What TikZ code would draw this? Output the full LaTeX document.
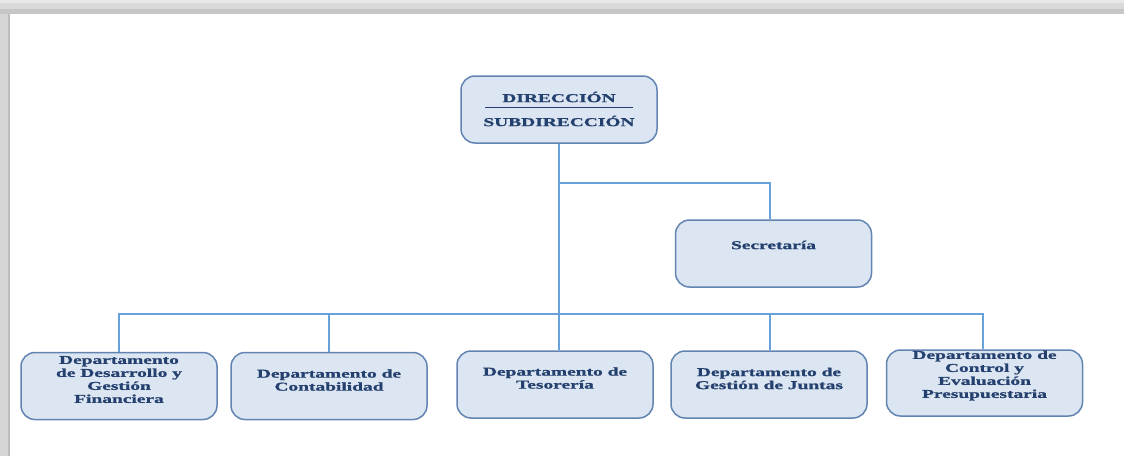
\documentclass[tikz,border=0pt]{standalone}
\usepackage{fontspec}
\newfontfamily\orgfont[FakeStretch=1.62,FakeBold=1.2]{Liberation Serif}
\usetikzlibrary{positioning}
\definecolor{boxfill}{RGB}{220,230,242}
\definecolor{boxline}{RGB}{98,132,178}
\definecolor{linkline}{RGB}{104,160,218}
\definecolor{navy}{RGB}{36,64,110}
\tikzset{
	unit/.style={
		rectangle,
		rounded corners=14pt,
		fill=boxfill,
		draw=boxline, line width=1.5pt,
		minimum width=196pt,
		minimum height=67pt},
	unittext/.style={
		text=navy,
		font=\orgfont\bfseries\fontsize{12}{13}\selectfont,
		align=center,
		inner sep=0pt},
	link/.style={draw=linkline, line width=1.3pt},
}
\begin{document}
\begin{tikzpicture}[x=1pt,y=-1pt]
	\useasboundingbox (0,0) rectangle (1124,456);
	% marco
	\fill[white] (0,0) rectangle (1124,456);
	\fill[gray!18] (0,0) rectangle (1124,3);
	\fill[gray!30] (0,3) rectangle (1124,9);
	\fill[gray!45] (0,9) rectangle (1124,14);
	\fill[gray!32] (0,14) rectangle (8,456);
	\fill[gray!52] (8,14) rectangle (10,456);

	% cajas
	\node[unit] (dir) at (559,109.5) {};
	\node[unit] (sec) at (773.5,253.5) {};
	\node[unit] (desa) at (119,386) {};
	\node[unit] (cont) at (329,386) {};
	\node[unit] (teso) at (555,384.5) {};
	\node[unit] (junt) at (769,384.5) {};
	\node[unit, minimum height=66pt] (ctrl) at (984.5,383) {};

	% textos
	\node[unittext] (dir-a) at (559,97) {DIRECCIÓN};
	\node[unittext] (dir-b) at (559,121) {SUBDIRECCIÓN};
	\draw[navy, line width=0.8pt] (485,107) -- (633,107);
	\node[unittext] (sec-t) at (773.5,245) {Secretaría};
	\node[unittext] (desa-t) at (119,379.5) {Departamento\\de Desarrollo y\\Gestión\\Financiera};
	\node[unittext] (cont-t) at (329,380) {Departamento de\\Contabilidad};
	\node[unittext] (teso-t) at (555,378) {Departamento de\\Tesorería};
	\node[unittext] (junt-t) at (769,378.5) {Departamento de\\Gestión de Juntas};
	\node[unittext] (ctrl-t) at (984.5,375.5) {Departamento de\\Control y\\Evaluación\\Presupuestaria};

	% conectores
	\coordinate (ramal) at (559,183);
	\coordinate (sec-in) at (770,183);
	\coordinate (b1) at (119,314);
	\coordinate (b2) at (329,314);
	\coordinate (b3) at (559,314);
	\coordinate (b4) at (770,314);
	\coordinate (b5) at (983,314);
	\draw[link] (dir.south -| b3) -- (b3);
	\draw[link] (ramal) -- (sec-in) -- (sec.north -| sec-in);
	\draw[link] (desa.north -| b1) -- (b1) -- (b5) -- (ctrl.north -| b5);
	\draw[link] (b2) -- (cont.north -| b2);
	\draw[link] (b3) -- (teso.north -| b3);
	\draw[link] (b4) -- (junt.north -| b4);
\end{tikzpicture}
\end{document}
